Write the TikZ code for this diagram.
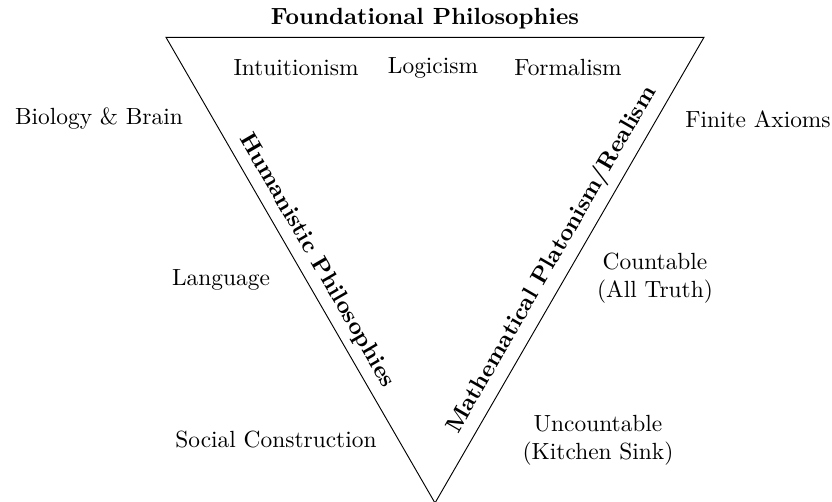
\documentclass[tikz,border=0pt]{standalone}
\begin{document}
\begin{tikzpicture}[x=0.4274pt,y=-0.4274pt,
  lbl/.style={align=center},
  edgelbl/.style={font=\bfseries, sloped, midway, above}]
\useasboundingbox (0,0) rectangle (832,502);

% the three corners of the triangle
\coordinate (TL) at (166,37.3);
\coordinate (TR) at (704,37.3);
\coordinate (B)  at (435,503);

\draw (TL) -- (B) -- (TR) -- cycle;

% names of the three sides
\node[font=\bfseries, anchor=south] (found) at (425,37.3) {Foundational Philosophies};
\path (TL) -- (B)  node[edgelbl] (human) {Humanistic Philosophies};
\path (B)  -- (TR) node[edgelbl] (plato) {Mathematical Platonism/Realism};

% schools inside the triangle
\node[lbl] (intu) at (296,68) {Intuitionism};
\node[lbl] (logi) at (433,68) {Logicism};
\node[lbl] (form) at (568,68) {Formalism};

% left column
\node[lbl] (bio)  at (99,119)  {Biology \& Brain};
\node[lbl] (lang) at (221,280) {Language};
\node[lbl] (soc)  at (276,440) {Social Construction};

% right column
\node[lbl] (fin)  at (758,119) {Finite Axioms};
\node[lbl] (cnt)  at (655,278) {Countable\\(All Truth)};
\node[lbl] (unc)  at (598,440) {Uncountable\\(Kitchen Sink)};
\end{tikzpicture}
\end{document}
